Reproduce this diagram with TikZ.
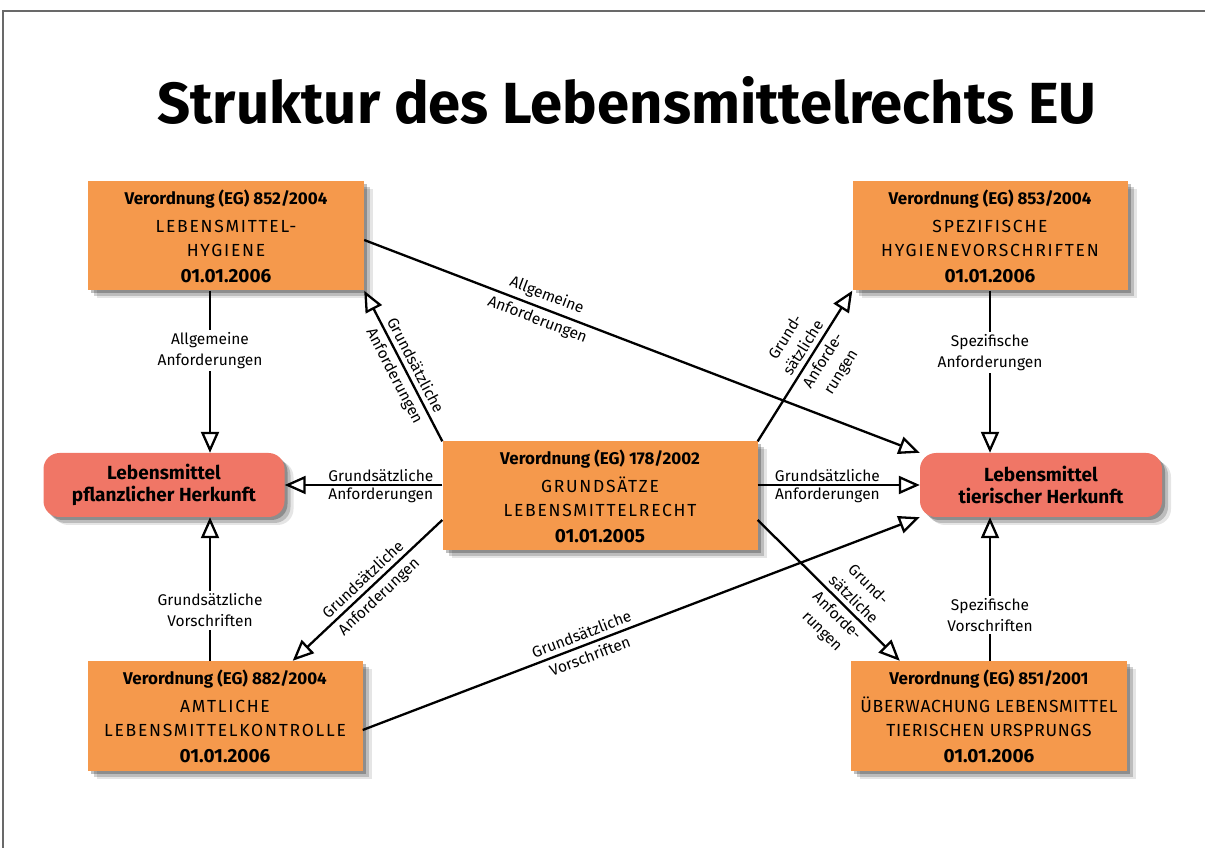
\documentclass[tikz,border=0pt]{standalone}
\usepackage{fontspec}
\setmainfont{Fira Sans}
\newfontfamily\capsfont[LetterSpace=10]{Fira Sans}
\newfontfamily\tightcaps[LetterSpace=4]{Fira Sans}
\usetikzlibrary{arrows.meta,calc,shadows,positioning}
\definecolor{laworange}{RGB}{245,153,76}
\definecolor{foodred}{RGB}{240,118,102}
\definecolor{framegray}{RGB}{105,105,105}
\tikzset{
  link/.style={black,line width=2.3pt,-{Triangle[open,length=21pt,width=18pt,fill=white]}},
  boxshadow/.style={drop shadow={shadow xshift=3pt,shadow yshift=-3pt,opacity=.25,fill=black},
                    drop shadow={shadow xshift=6pt,shadow yshift=-6pt,opacity=.18,fill=black},
                    drop shadow={shadow xshift=9pt,shadow yshift=-8pt,opacity=.10,fill=black}},
  law/.style={fill=laworange,boxshadow,minimum width=276pt,minimum height=109pt,inner sep=0pt,
              align=center,font=\fontsize{17}{24}\selectfont},
  food/.style={fill=foodred,rounded corners=16pt,boxshadow,minimum width=241pt,minimum height=64pt,
               inner sep=0pt,align=center,font=\fontsize{19}{22}\selectfont\bfseries},
  lbl/.style={font=\fontsize{15.5}{21}\selectfont,align=center,inner sep=4.5pt},
  cut/.style={lbl,fill=white,inner sep=2.5pt},
}

\begin{document}
\begin{tikzpicture}[x=1pt,y=1pt]
  \path[use as bounding box] (0,0) rectangle (1205,847);
  \draw[framegray,line width=1.5pt] (3,-10) |- (1215,836);
  \node[font=\fontsize{58}{62}\selectfont\bfseries] (title) at (627,747) {Struktur des Lebensmittelrechts EU};

  \node[law] (h852) at (226,611)
    {\textbf{Verordnung (EG) 852/2004}\\[4pt]{\capsfont\fontsize{17.5}{24}\selectfont LEBENSMITTEL-}\\{\capsfont\fontsize{17.5}{24}\selectfont HYGIENE}\\[2pt]\textbf{\fontsize{19}{24}\selectfont 01.01.2006}};
  \node[law,minimum width=275pt] (s853) at (990,611)
    {\textbf{Verordnung (EG) 853/2004}\\[4pt]{\capsfont\fontsize{17.5}{24}\selectfont SPEZIFISCHE}\\{\capsfont\fontsize{17.5}{24}\selectfont HYGIENEVORSCHRIFTEN}\\[2pt]\textbf{\fontsize{19}{24}\selectfont 01.01.2006}};
  \node[law,minimum width=315pt] (g178) at (600,351)
    {\textbf{Verordnung (EG) 178/2002}\\[4pt]{\capsfont\fontsize{17.5}{24}\selectfont GRUNDSÄTZE}\\{\capsfont\fontsize{17.5}{24}\selectfont LEBENSMITTELRECHT}\\[2pt]\textbf{\fontsize{19}{24}\selectfont 01.01.2005}};
  \node[law,minimum width=275pt,minimum height=110pt] (k882) at (225,131)
    {\textbf{Verordnung (EG) 882/2004}\\[4pt]{\capsfont\fontsize{17.5}{24}\selectfont AMTLICHE}\\{\capsfont\fontsize{17.5}{24}\selectfont LEBENSMITTELKONTROLLE}\\[2pt]\textbf{\fontsize{19}{24}\selectfont 01.01.2006}};
  \node[law,minimum width=276pt,minimum height=110pt] (u851) at (989,131)
    {\textbf{Verordnung (EG) 851/2001}\\[4pt]{\tightcaps\fontsize{17.5}{24}\selectfont ÜBERWACHUNG LEBENSMITTEL}\\{\tightcaps\fontsize{17.5}{24}\selectfont TIERISCHEN URSPRUNGS}\\[2pt]\textbf{\fontsize{19}{24}\selectfont 01.01.2006}};

  \node[food] (pfl) at (164,362) {Lebensmittel\\pflanzlicher Herkunft};
  \node[food,minimum width=242pt] (tier) at (1041,362) {Lebensmittel\\tierischer Herkunft};

  \coordinate (lx) at (210,0);
  \coordinate (rx) at (990,0);

  \draw[link] (h852.south -| lx) -- node[cut,pos=.37] (a1) {Allgemeine\\Anforderungen} (pfl.north -| lx);
  \draw[link] (k882.north -| lx) -- node[cut,pos=.35] (a2) {Grundsätzliche\\Vorschriften} (pfl.south -| lx);
  \draw[link] (s853.south -| rx) -- node[cut,pos=.38] (a3) {Spezifische\\Anforderungen} (tier.north -| rx);
  \draw[link] (u851.north -| rx) -- node[cut,pos=.32] (a4) {Spezifische\\Vorschriften} (tier.south -| rx);

  \draw[link] (g178.west |- pfl.east) -- node[lbl,above,pos=.39,inner sep=2pt] (a5) {Grundsätzliche}
    node[lbl,below,pos=.39,inner sep=2pt] (b5) {Anforderungen} (pfl.east);
  \draw[link] (g178.east |- tier.west) -- node[lbl,above,pos=.43,inner sep=2pt] (a6) {Grundsätzliche}
    node[lbl,below,pos=.43,inner sep=2pt] (b6) {Anforderungen} (tier.west);

  \draw[link] (g178.north west) -- node[lbl,sloped,above,pos=.47] (a7) {Grundsätzliche}
    node[lbl,sloped,below,pos=.47] (b7) {Anforderungen} (h852.south east);
  \draw[link] (g178.north east) -- node[lbl,sloped,above,pos=.58] (a8) {Grund-\\sätzliche}
    node[lbl,sloped,below,pos=.58] (b8) {Anforde-\\rungen} (s853.south west);
  \draw[link] ($(g178.west)+(0,-24)$) -- node[lbl,sloped,above,pos=.48] (a9) {Grundsätzliche}
    node[lbl,sloped,below,pos=.48] (b9) {Anforderungen} ($(k882.north east)+(-70,0)$);
  \draw[link] ($(g178.east)+(0,-24)$) -- node[lbl,sloped,above,pos=.62] (a10) {Grund-\\sätzliche}
    node[lbl,sloped,below,pos=.62] (b10) {Anforde-\\rungen} ($(u851.north west)+(49,0)$);
  \draw[link] ($(h852.east)+(0,-4)$) -- node[lbl,sloped,above,pos=.32] (a11) {Allgemeine}
    node[lbl,sloped,below,pos=.32] (b11) {Anforderungen} (tier.north west);
  \draw[link] ($(k882.east)+(0,-14)$) -- node[lbl,sloped,above,pos=.40] (a12) {Grundsätzliche}
    node[lbl,sloped,below,pos=.40] (b12) {Vorschriften} (tier.south west);
\end{tikzpicture}
\end{document}
